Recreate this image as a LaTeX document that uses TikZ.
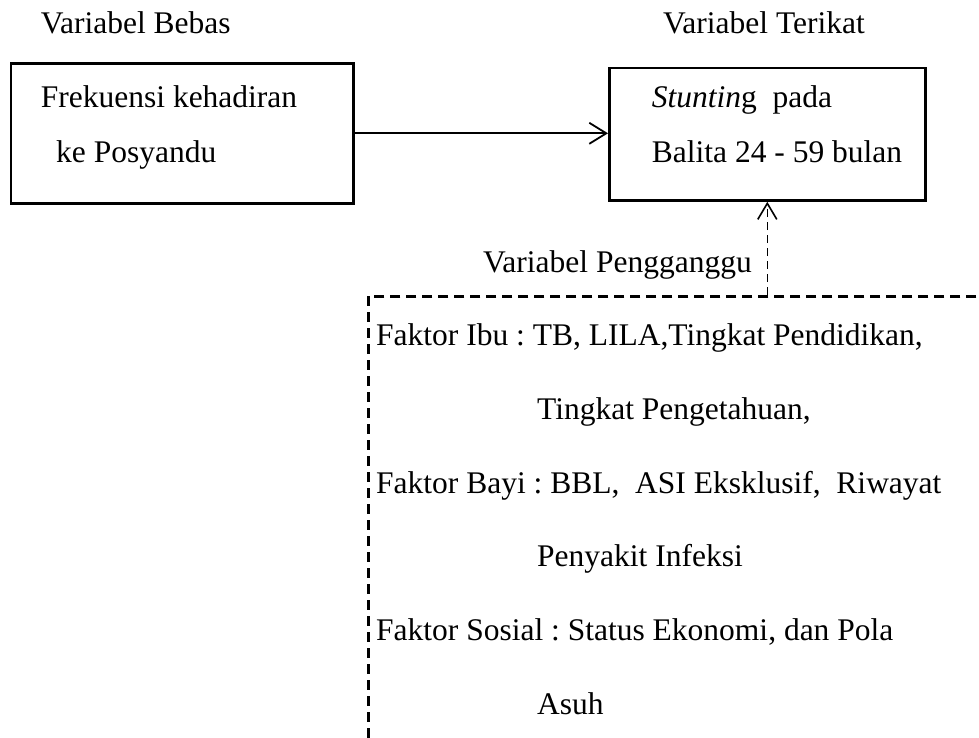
\documentclass[tikz,border=0pt]{standalone}
\usepackage{fontspec}
\setmainfont{Liberation Serif}
\usetikzlibrary{arrows.meta}
\frenchspacing
\begin{document}
\begin{tikzpicture}[x=1pt,y=-1pt,
  box/.style={draw, line width=2.6pt, rectangle, inner sep=0pt, anchor=north west},
  dbox/.style={draw, line width=2.6pt, dash pattern=on 10pt off 6pt, rectangle, inner sep=0pt, anchor=north west},
  txt/.style={anchor=base west, inner sep=0pt, font=\fontsize{31.5}{38}\selectfont},
  arr/.style={line width=1.8pt, -{Straight Barb[length=17pt,width=21pt,line width=1.8pt]}},
  darr/.style={line width=1.6pt, dash pattern=on 8pt off 5pt, -{Straight Barb[length=16pt,width=19pt,line width=1.6pt]}}
]
\clip (0,0) rectangle (979,738);
\fill[white] (0,0) rectangle (979,738);

% boxes
\node[box, minimum width=342.5pt, minimum height=140pt] (bebas) at (9.5,62) {};
\node[box, minimum width=316pt, minimum height=132.5pt] (terikat) at (608,66.7) {};
\node[dbox, minimum width=700pt, minimum height=600pt] (pengganggu) at (367,295) {};

% headings
\node[txt] (hbebas) at (40.7,33.5) {Variabel Bebas};
\node[txt] (hterikat) at (663,33.5) {Variabel Terikat};
\node[txt] (hpeng) at (483,272) {Variabel Pengganggu};

% box texts
\node[txt] (b1) at (40.7,107.7) {Frekuensi kehadiran};
\node[txt] (b2) at (56,162.7) {ke Posyandu};
\node[txt] (t1) at (651.7,107.7) {\textit{Stuntin}g\ \ pada};
\node[txt] (t2) at (651.7,162.7) {Balita 24 - 59 bulan};

\node[txt] (p1) at (376,345.7) {Faktor Ibu : TB, LILA,Tingkat Pendidikan,};
\node[txt] (p2) at (537,419.5) {Tingkat Pengetahuan,};
\node[txt] (p3) at (376,493) {Faktor Bayi : BBL,\ \ ASI Eksklusif,\ \ Riwayat};
\node[txt] (p4) at (537,566.7) {Penyakit Infeksi};
\node[txt] (p5) at (376,640.5) {Faktor Sosial : Status Ekonomi, dan Pola};
\node[txt] (p6) at (537,714) {Asuh};

% connectors
\coordinate (aend) at (bebas.east -| terikat.west);
\draw[arr] (bebas.east) -- (aend);
\coordinate (dstart) at (pengganggu.north -| terikat.south);
\draw[darr] (dstart) -- (terikat.south);
\end{tikzpicture}
\end{document}
